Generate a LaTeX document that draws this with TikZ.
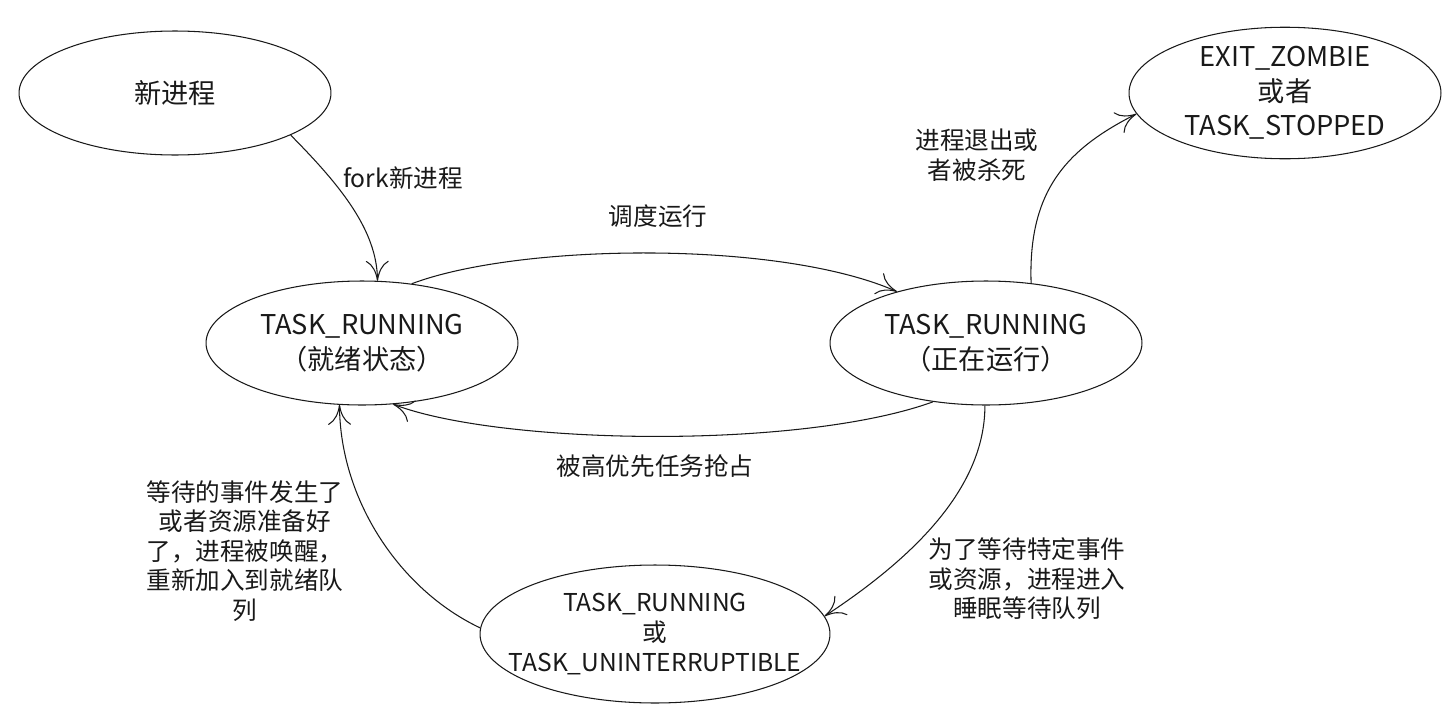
\documentclass[tikz,border=0pt]{standalone}
\usepackage{fontspec}
\setmainfont{Noto Sans CJK SC}
\usepackage{tikz}
\usetikzlibrary{shapes.geometric, arrows.meta}
\definecolor{mydark}{RGB}{25,25,25}
\tikzset{
  statebox/.style={ellipse, draw=mydark, line width=0.6pt, inner sep=0pt,
    minimum width=6.24cm, minimum height=2.48cm, align=center,
    font=\fontsize{15.5pt}{19.6pt}\selectfont, text=mydark},
  widebox/.style={statebox, inner xsep=-0.5cm, minimum width=7cm,
    minimum height=2.76cm, font=\fontsize{14pt}{17pt}\selectfont},
  lbl/.style={align=center, font=\fontsize{14pt}{16.8pt}\selectfont, text=mydark},
  arrow/.style={-{Computer Modern Rightarrow[length=4mm,width=4.6mm]},
    line width=0.6pt, color=mydark}
}

\begin{document}
\begin{tikzpicture}[x=0.02cm, y=-0.02cm]
  \useasboundingbox (0,0) rectangle (1455,717);
  \node[statebox] (newp)    at (175,93)   {新进程};
  \node[statebox] (ready)   at (362,343)  {TASK\_RUNNING\\（就绪状态）};
  \node[statebox] (running) at (986,343)  {TASK\_RUNNING\\（正在运行）};
  \node[statebox] (exit)    at (1285,93)  {EXIT\_ZOMBIE\\或者\\TASK\_STOPPED};
  \node[widebox]  (sleep)   at (655,634)  {TASK\_RUNNING\\或\\TASK\_UNINTERRUPTIBLE};

  \draw[arrow] (newp.-20) .. controls (340,185) and (377,230) .. (ready.76);
  \draw[arrow] (ready.50) .. controls (520,243) and (780,240) .. (running.150);
  \draw[arrow] (running.-132) .. controls (800,450) and (500,445) .. (ready.-63);
  \draw[arrow] (running.53) .. controls (1028,190) and (1067,149) .. (exit.-172);
  \draw[arrow] (running.-91) .. controls (985,490) and (910,560) .. (sleep.6);
  \draw[arrow] (sleep.178) .. controls (400,590) and (340,500) .. (ready.250);
  % edge labels
  \node[lbl] (forklbl)  at (403,178)  {fork新进程};
  \node[lbl] (schedlbl) at (658,216)  {调度运行};
  \node[lbl] (prelbl)   at (655,466)  {被高优先任务抢占};
  \node[lbl] (exitlbl)  at (977,155)  {进程退出或\\者被杀死};
  \node[lbl] (waitlbl)  at (1027,579) {为了等待特定事件\\或资源，进程进入\\睡眠等待队列};
  \node[lbl] (wakelbl)  at (245,551)  {等待的事件发生了\\或者资源准备好\\了，进程被唤醒，\\重新加入到就绪队\\列};
\end{tikzpicture}
\end{document}
